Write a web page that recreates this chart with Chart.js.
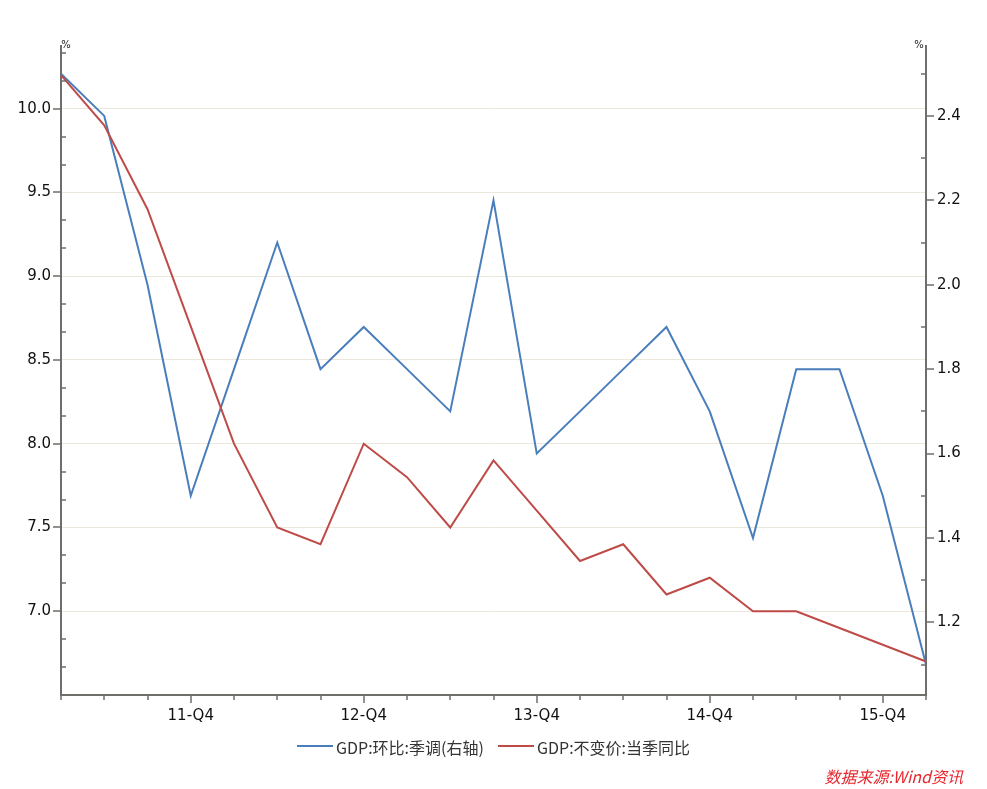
<!DOCTYPE html>
<html>
<head>
<meta charset="utf-8">
<script src="https://cdn.jsdelivr.net/npm/chart.js@4.4.1/dist/chart.umd.min.js"></script>
<style>
html,body{margin:0;padding:0;background:#fff;}
#wrap{position:relative;width:987px;height:789px;}
</style>
</head>
<body>
<div id="wrap"><canvas id="c" width="987" height="789"></canvas></div>
<script>
const categories = ['11-Q1','11-Q2','11-Q3','11-Q4','12-Q1','12-Q2','12-Q3','12-Q4','13-Q1','13-Q2','13-Q3','13-Q4','14-Q1','14-Q2','14-Q3','14-Q4','15-Q1','15-Q2','15-Q3','15-Q4','16-Q1'];
const qoqSeasonal = [2.5,2.4,2.0,1.5,1.8,2.1,1.8,1.9,1.8,1.7,2.2,1.6,1.7,1.8,1.9,1.7,1.4,1.8,1.8,1.5,1.1];
const yoyConstant = [10.2,9.9,9.4,8.7,8.0,7.5,7.4,8.0,7.8,7.5,7.9,7.6,7.3,7.4,7.1,7.2,7.0,7.0,6.9,6.8,6.7];
const seriesNames = ['GDP:环比:季调(右轴)','GDP:不变价:当季同比'];
const leftTickLabels = [7.0,7.5,8.0,8.5,9.0,9.5,10.0];
const rightTickLabels = [1.2,1.4,1.6,1.8,2.0,2.2,2.4];
const sourceText = '数据来源:Wind资讯';

const BLUE = '#4a7ebb';
const RED = '#be4b48';
const AXIS = '#6e6e6a';
const GRID = '#ebe7da';
const FONT = "'DejaVu Sans', 'Noto Sans', sans-serif";
const CJK = "'Noto Sans CJK SC', 'Noto Sans', sans-serif";

function near(v, arr){ return arr.some(a => Math.abs(a - v) < 1e-6); }

const axesPlugin = {
  id: 'axesPlugin',
  afterDraw(chart){
    const ctx = chart.ctx;
    const a = chart.chartArea;
    const x = chart.scales.x, yl = chart.scales.yL, yr = chart.scales.yR;
    ctx.save();
    ctx.strokeStyle = AXIS;
    ctx.lineWidth = 2;
    ctx.beginPath();
    ctx.moveTo(a.left, a.top); ctx.lineTo(a.left, a.bottom + 1);
    ctx.moveTo(a.right, a.top); ctx.lineTo(a.right, a.bottom + 1);
    ctx.moveTo(a.left - 1, a.bottom); ctx.lineTo(a.right + 1, a.bottom);
    ctx.stroke();
    ctx.lineWidth = 1.5;
    ctx.beginPath();
    categories.forEach((c, i) => {
      const px = Math.round(x.getPixelForValue(i));
      const len = c.endsWith('Q4') ? 8 : 5;
      ctx.moveTo(px, a.bottom); ctx.lineTo(px, a.bottom + len);
    });
    for (let k = 0; k <= 24; k++) {
      const v = 6.5 + k / 6;
      if (v > yl.max + 1e-6) break;
      const py = Math.round(yl.getPixelForValue(v));
      if (near(v, leftTickLabels)) { ctx.moveTo(a.left - 8, py); ctx.lineTo(a.left, py); }
      else if (k > 0) { ctx.moveTo(a.left, py); ctx.lineTo(a.left + 5, py); }
    }
    for (let k = 0; k <= 20; k++) {
      const v = 1.1 + k * 0.1;
      if (v > yr.max + 1e-6) break;
      const py = Math.round(yr.getPixelForValue(v));
      if (near(v, rightTickLabels)) { ctx.moveTo(a.right, py); ctx.lineTo(a.right + 8, py); }
      else { ctx.moveTo(a.right - 5, py); ctx.lineTo(a.right, py); }
    }
    ctx.stroke();
    ctx.fillStyle = '#222';
    ctx.font = "10px " + FONT;
    ctx.textBaseline = 'middle';
    ctx.textAlign = 'center';
    ctx.fillText('%', a.left + 5, a.top);
    ctx.fillText('%', a.right - 7, a.top);
    const ly = 747;
    const items = [{x: 297, c: BLUE, t: seriesNames[0]}, {x: 498, c: RED, t: seriesNames[1]}];
    ctx.font = "16px " + CJK;
    ctx.textAlign = 'left';
    ctx.fillStyle = '#333';
    items.forEach(it => {
      ctx.strokeStyle = it.c; ctx.lineWidth = 2;
      ctx.beginPath(); ctx.moveTo(it.x, ly - 1); ctx.lineTo(it.x + 36, ly - 1); ctx.stroke();
      ctx.fillText(it.t, it.x + 39, ly + 1);
    });
    ctx.font = "italic 16px " + CJK;
    ctx.fillStyle = '#e8262d';
    ctx.textAlign = 'right';
    ctx.fillText(sourceText, 963, 777);
    ctx.restore();
  }
};

new Chart(document.getElementById('c'), {
  type: 'line',
  data: {
    labels: categories,
    datasets: [
      {label: seriesNames[0], data: qoqSeasonal, yAxisID: 'yR', borderColor: BLUE, backgroundColor: BLUE, borderWidth: 2, pointRadius: 0, tension: 0, order: 2},
      {label: seriesNames[1], data: yoyConstant, yAxisID: 'yL', borderColor: RED, backgroundColor: RED, borderWidth: 2, pointRadius: 0, tension: 0, order: 1}
    ]
  },
  options: {
    responsive: false,
    animation: false,
    devicePixelRatio: 1,
    layout: {padding: {top: 45, bottom: 0, left: 0, right: 0}},
    plugins: {legend: {display: false}, tooltip: {enabled: false}},
    scales: {
      x: {
        type: 'category', offset: false,
        grid: {display: true, drawOnChartArea: false, drawTicks: true, tickLength: 8, tickColor: 'rgba(0,0,0,0)'},
        border: {display: false},
        ticks: {autoSkip: false, maxRotation: 0, minRotation: 0, padding: 4, color: '#111', font: {family: FONT, size: 15},
          callback: function(v, i){ const l = categories[i]; return l.endsWith('Q4') ? l : ''; }},
        afterFit(s){ s.height = 94; }
      },
      yL: {
        type: 'linear', position: 'left', min: 6.5, max: 10.38,
        ticks: {stepSize: 0.5, padding: 2, color: '#111', font: {family: FONT, size: 15},
          callback: v => near(v, leftTickLabels) ? v.toFixed(1) : ''},
        grid: {drawTicks: true, tickLength: 8, tickColor: 'rgba(0,0,0,0)', lineWidth: 1,
          color: c => (c.tick && near(c.tick.value, leftTickLabels)) ? GRID : 'rgba(0,0,0,0)'},
        border: {display: false},
        afterFit(s){ s.width = 61; }
      },
      yR: {
        type: 'linear', position: 'right', min: 1.028, max: 2.568,
        afterBuildTicks(s){ s.ticks = rightTickLabels.map(v => ({value: v})); },
        ticks: {padding: 3, color: '#111', font: {family: FONT, size: 15}, callback: v => v.toFixed(1)},
        grid: {drawOnChartArea: false, drawTicks: true, tickLength: 8, tickColor: 'rgba(0,0,0,0)'},
        border: {display: false},
        afterFit(s){ s.width = 61; }
      }
    }
  },
  plugins: [axesPlugin]
});
</script>
</body>
</html>
